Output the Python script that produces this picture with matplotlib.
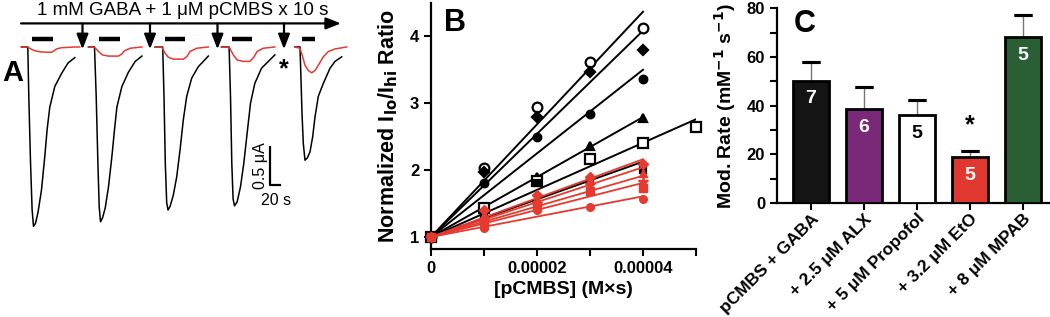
import numpy as np
import matplotlib
matplotlib.use('Agg')
import matplotlib.pyplot as plt
from matplotlib.ticker import MultipleLocator

plt.rcParams['font.family'] = ['Liberation Sans', 'DejaVu Sans']

# ---- panel A: current traces (time in s from trace start, current in uA)
trace_start = [43, 177, 310, 443, 590]
black_t = [
    [0, 12.6, 14.6, 18, 21.2, 24, 28, 33.2, 40, 46.6, 51.2, 56.6, 66.6, 80, 93.2, 106.6],
    [0, 12, 15.4, 18.8, 21.4, 24, 28, 33.4, 40, 46.8, 52, 56.8, 66.8, 80, 93.4, 106.8],
    [0, 15.4, 18, 20.6, 23.4, 26, 30, 36.6, 43.4, 50, 56.6, 63.4, 73.4, 86.6, 106.6],
    [0, 15.2, 18, 20.6, 23.2, 26, 31.2, 38, 44.6, 51.2, 58, 66.6, 80, 106.6],
    [0, 10, 12, 14, 16.6, 20, 24.6, 30, 35.4, 40, 46.6, 56.6, 70, 80, 93.4],
]
black_i = [
    [0, 0, -0.65, -1.51, -2.14, -2.36, -2.32, -2.17, -1.88, -1.44, -1.09, -0.79, -0.52, -0.35, -0.21, -0.14],
    [0, 0, -0.65, -1.53, -2.1, -2.3, -2.25, -2.12, -1.84, -1.44, -1.09, -0.79, -0.52, -0.33, -0.19, -0.12],
    [0, 0, -0.65, -1.53, -2.05, -2.145, -2.1, -1.95, -1.71, -1.36, -0.96, -0.65, -0.41, -0.26, -0.12],
    [0, 0, -0.65, -1.53, -2.0, -2.09, -2.04, -1.84, -1.53, -1.14, -0.74, -0.48, -0.28, -0.105],
    [0, 0, -0.43, -0.87, -1.27, -1.49, -1.46, -1.38, -1.18, -0.92, -0.65, -0.48, -0.28, -0.19, -0.13],
]
red_t = [
    [0, 12, 20, 26.6, 40, 60, 65.2, 70, 80, 106.6, 116.6],
    [0, 12, 20, 28, 40, 60, 66.8, 72, 83.4, 106.8],
    [0, 13.4, 20, 26.6, 36.6, 56.6, 63.4, 70, 83.4, 106.6],
    [0, 15.2, 23.2, 31.2, 43.2, 56.6, 64.6, 71.2, 83.2, 106.6],
    [0, 10, 15.4, 20, 26.6, 33.4, 40, 46.6, 56.6, 66.6, 80, 103.4],
]
red_i = [
    [0, 0, -0.03, -0.05, -0.066, -0.07, -0.05, -0.026, -0.01, 0, 0],
    [0, -0.004, -0.06, -0.105, -0.12, -0.12, -0.09, -0.05, -0.017, 0],
    [0, 0, -0.08, -0.135, -0.16, -0.16, -0.13, -0.06, -0.017, 0],
    [0, 0, -0.1, -0.17, -0.19, -0.19, -0.135, -0.06, -0.017, 0],
    [0, -0.017, -0.13, -0.24, -0.31, -0.34, -0.31, -0.24, -0.13, -0.06, -0.026, 0],
]
stim_on = [20, 20, 20, 20, 13]
stim_off = [62, 63, 60, 60, 40]
wash_times = [165, 300, 435, 568]

# ---- panel B: normalized ratio vs pCMBS exposure
dose = [0, 1e-5, 2e-5, 3e-5, 4e-5]
dose_long = [0, 1e-5, 2e-5, 3e-5, 4e-5, 5e-5]
blk_open_circle = [1, 2.03, 2.95, 3.62, 4.12]
blk_diamond = [1, 1.97, 2.8, 3.47, 3.79]
blk_circle = [1, 1.8, 2.5, 2.84, 3.36]
blk_triangle = [1, 1.45, 1.9, 2.36, 2.78]
blk_open_square = [1, 1.43, 1.83, 2.16, 2.4, 2.64]
blk_square = [1, 1.3, 1.8, 1.85, 2.0]
red_diamond = [1, 1.4, 1.63, 1.9, 2.09]
red_triangle = [1, 1.33, 1.57, 1.85, 1.95]
red_star = [1, 1.25, 1.5, 1.78, 1.82]
red_square = [1, 1.18, 1.45, 1.69, 1.73]
red_circle = [1, 1.13, 1.4, 1.45, 1.57]

# ---- panel C: modification rates
conditions = ['pCMBS + GABA', '+ 2.5 \u03bcM ALX', '+ 5 \u03bcM Propofol',
              '+ 3.2 \u03bcM EtO', '+ 8 \u03bcM MPAB']
rate = [50.3, 38.6, 36.1, 19.0, 68.3]
rate_err = [7.5, 9.2, 6.2, 2.5, 9.0]
n_cells = ['7', '6', '5', '5', '5']
bar_colors = ['#141414', '#7a2878', '#ffffff', '#e0382e', '#2a5e34']
num_colors = ['white', 'white', 'black', 'white', 'white']

RED = '#e53a30'

fig = plt.figure(figsize=(10.5, 3.17), dpi=100)

# ================= A
axA = fig.add_axes([0, 0, 360 / 1050, 1])
axA.set_xlim(0, 720)
axA.set_ylim(-3.553, 0.618)
axA.axis('off')
for k in range(5):
    t0 = trace_start[k]
    axA.plot(np.array(black_t[k]) + t0, black_i[k], color='black', lw=1.1)
    axA.plot(np.array(red_t[k]) + t0, red_i[k], color=RED, lw=1.1)
    axA.plot([t0 + stim_on[k], t0 + stim_off[k]], [0.105, 0.105], color='black', lw=3.2,
             solid_capstyle='butt')
axA.annotate('', xy=(682, 0.31), xytext=(42, 0.31),
             arrowprops=dict(arrowstyle='-|>,head_length=0.9,head_width=0.35', lw=1.6,
                             color='black', shrinkA=0, shrinkB=0))
for w in wash_times:
    axA.annotate('', xy=(w, -0.03), xytext=(w, 0.31),
                 arrowprops=dict(arrowstyle='-|>,head_length=0.9,head_width=0.35', lw=1.6,
                                 color='black', shrinkA=0, shrinkB=0))
axA.text(366, 0.478, '1 mM GABA + 1 \u03bcM pCMBS x 10 s', ha='center', va='center', fontsize=13.5)
axA.text(568, -0.29, '*', ha='center', va='center', fontsize=18, fontweight='bold')
# scale bar 20 s / 0.5 uA
axA.plot([540, 540, 560], [-1.316, -1.816, -1.816], color='black', lw=1.6)
axA.text(520, -1.56, '0.5 \u03bcA', rotation=90, ha='center', va='center', fontsize=11.5)
axA.text(552, -2.02, '20 s', ha='center', va='center', fontsize=11.5)
fig.text(13 / 1050, 1 - 73 / 317, 'A', ha='center', va='center', fontsize=21, fontweight='bold')

# ================= B
axB = fig.add_axes([431 / 1050, 1 - 249 / 317, 265 / 1050, 246 / 317])


def fit_line(x, y):
    x = np.array(x)
    y = np.array(y)
    k = np.sum(x * (y - 1)) / np.sum(x * x)
    xs = np.array([0, x.max()])
    return xs, 1 + k * xs


black_sets = [
    (dose, blk_open_circle, 'o', 'white', 7),
    (dose, blk_diamond, 'D', 'black', 5),
    (dose, blk_circle, 'o', 'black', 5.5),
    (dose, blk_triangle, '^', 'black', 6),
    (dose_long, blk_open_square, 's', 'white', 7),
    (dose, blk_square, 's', 'black', 5),
]
red_sets = [
    (dose, red_diamond, 'D'),
    (dose, red_triangle, '^'),
    (dose, red_star, '*'),
    (dose, red_square, 's'),
    (dose, red_circle, 'o'),
]
for x, y, m, fc, ms in black_sets:
    lx, ly = fit_line(x, y)
    axB.plot(lx, ly, color='black', lw=1.4, zorder=2)
    axB.plot(x, y, ls='none', marker=m, mfc=fc, mec='black', mew=1.6, ms=ms,
             clip_on=False, zorder=3)
for x, y, m in red_sets:
    lx, ly = fit_line(x, y)
    axB.plot(lx, ly, color=RED, lw=1.3, zorder=4)
    axB.plot(x, y, ls='none', marker=m, color=RED, mew=1, ms=7 if m == '*' else 5.5,
             clip_on=False, zorder=5)

axB.set_xlim(0, 5e-5)
axB.set_ylim(0.82, 4.5)
axB.set_xticks([0, 2e-5, 4e-5])
axB.set_xticklabels(['0', '0.00002', '0.00004'])
axB.xaxis.set_minor_locator(MultipleLocator(1e-5))
axB.set_yticks([1, 2, 3, 4])
axB.set_yticklabels(['1', '2', '3', '4'])
axB.set_xlabel('[pCMBS] (M\u00d7s)', fontsize=14, fontweight='bold', labelpad=4)
axB.set_ylabel('Normalized I$_{\\mathbf{lo}}$/I$_{\\mathbf{hi}}$ Ratio', fontsize=15.5,
               fontweight='bold', labelpad=7)
axB.text(0.09, 0.92, 'B', transform=axB.transAxes, fontsize=22, fontweight='bold',
         ha='center', va='center')

# ================= C
axC = fig.add_axes([777 / 1050, 1 - 203 / 317, 273 / 1050, 194.7 / 317])
pos = np.arange(len(rate))
axC.bar(pos, rate, width=0.68, color=bar_colors, edgecolor='black', linewidth=2, zorder=3)
axC.errorbar(pos, rate, yerr=[np.zeros(len(rate)), rate_err], fmt='none', ecolor='#777777',
             elinewidth=1, capsize=0, zorder=2)
axC.errorbar(pos, np.array(rate) + np.array(rate_err), yerr=0, fmt='none', ecolor='black',
             elinewidth=0, capsize=6.5, capthick=2.2, zorder=2)
for p, v, n, c in zip(pos, rate, n_cells, num_colors):
    axC.text(p, v - 7.5, n, ha='center', va='center', fontsize=14, fontweight='bold',
             color=c, zorder=4)
axC.text(3, 32, '*', ha='center', va='center', fontsize=18, fontweight='bold')
axC.set_xlim(-0.64, 4.51)
axC.set_ylim(0, 80)
axC.set_yticks([0, 20, 40, 60, 80])
axC.yaxis.set_minor_locator(MultipleLocator(10))
axC.set_xticks(pos)
axC.set_xticklabels(conditions, rotation=45, ha='right', rotation_mode='anchor')
axC.set_ylabel('Mod. Rate (mM$^{\\mathbf{-1}}$ s$^{\\mathbf{-1}}$)', fontsize=14,
               fontweight='bold', labelpad=6)
axC.text(0.1, 0.92, 'C', transform=axC.transAxes, fontsize=22, fontweight='bold',
         ha='center', va='center')

for ax in (axB, axC):
    for s in ('top', 'right'):
        ax.spines[s].set_visible(False)
    for s in ('left', 'bottom'):
        ax.spines[s].set_linewidth(1.6)
    ax.tick_params(which='both', width=1.5, length=5, labelsize=12)
    for lab in ax.get_xticklabels() + ax.get_yticklabels():
        lab.set_fontweight('bold')
axC.tick_params(axis='x', pad=1)
for lab in axC.get_xticklabels():
    lab.set_fontsize(12.5)

fig.savefig('out.png', dpi=100)
